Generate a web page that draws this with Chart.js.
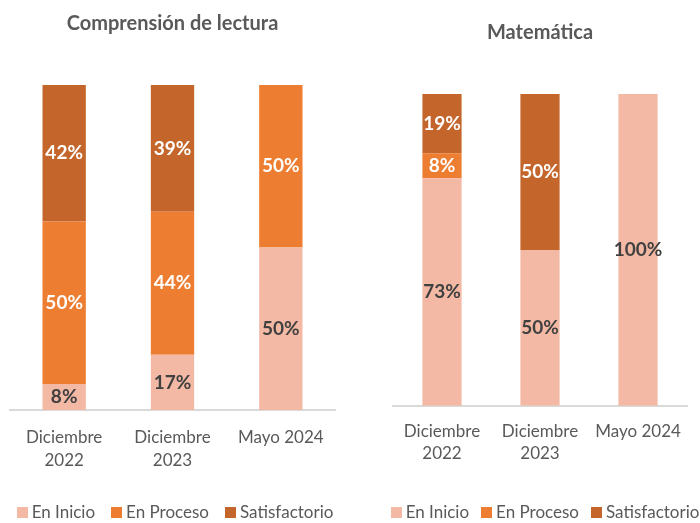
<!DOCTYPE html>
<html>
<head>
<meta charset="utf-8">
<script src="https://cdn.jsdelivr.net/npm/chart.js@4/dist/chart.umd.min.js"></script>
<style>
    body { margin: 0; background: #fff; }
    .box { position: absolute; top: 0; height: 523px; }
    .legend { position: absolute; top: 501px; left: 0; right: 0; display: flex; justify-content: center; gap: 16px;
              white-space: nowrap; font-family: Lato, "Open Sans", sans-serif; font-size: 17px; color: #595959; line-height: 22px; }
    #mateLegend { gap: 12px; }
    .legend span.item { display: flex; align-items: center; }
    .legend span.sq { display: inline-block; width: 11px; height: 11px; margin-right: 4px; }
</style>
</head>
<body>
<div class="box" style="left:0;width:350px;"><canvas id="lecturaChart"></canvas><div class="legend" id="lecturaLegend"></div></div>
<div class="box" style="left:390px;width:310px;"><canvas id="mateChart"></canvas><div class="legend" id="mateLegend"></div></div>
<script>
    'use strict';

    var periodos = [['Diciembre', '2022'], ['Diciembre', '2023'], 'Mayo 2024'];
    var niveles = ['En Inicio', 'En Proceso', 'Satisfactorio'];

    var lecturaInicio = [8, 17, 50];
    var lecturaProceso = [50, 44, 50];
    var lecturaSatisfactorio = [42, 39, 0];

    var mateInicio = [73, 50, 100];
    var mateProceso = [8, 0, 0];
    var mateSatisfactorio = [19, 50, 0];

    var colores = ['#F4B9A4', '#ED7D31', '#C4662B'];
    var colorLabel = ['#404040', '#ffffff', '#ffffff'];
    var FONT = 'Lato, "Open Sans", sans-serif';

    // draws the % inside every segment (no datalabels plugin here)
    var segmentLabels = {
        id: 'segmentLabels',
        afterDatasetsDraw: function (chart) {
            var ctx = chart.ctx;
            ctx.save();
            ctx.font = 'bold 19px ' + FONT;
            ctx.textAlign = 'center';
            ctx.textBaseline = 'middle';
            chart.data.datasets.forEach(function (ds, i) {
                chart.getDatasetMeta(i).data.forEach(function (bar, j) {
                    var v = ds.data[j];
                    if (!v) return;
                    ctx.fillStyle = colorLabel[i];
                    ctx.fillText(v + '%', bar.x, (bar.y + bar.base) / 2);
                });
            });
            ctx.restore();
        }
    };

    // legend as html, built from the chart's own legend items
    var htmlLegend = {
        id: 'htmlLegend',
        afterUpdate: function (chart, args, options) {
            var el = document.getElementById(options.containerID);
            el.innerHTML = '';
            chart.options.plugins.legend.labels.generateLabels(chart).forEach(function (item) {
                var li = document.createElement('span');
                li.className = 'item';
                var sq = document.createElement('span');
                sq.className = 'sq';
                sq.style.background = item.fillStyle;
                li.appendChild(sq);
                li.appendChild(document.createTextNode(item.text));
                el.appendChild(li);
            });
        }
    };

    function buildConfig(titulo, inicio, proceso, satisf, opts) {
        var series = [inicio, proceso, satisf];
        return {
            type: 'bar',
            data: {
                labels: periodos,
                datasets: niveles.map(function (nivel, i) {
                    return {
                        label: nivel,
                        data: series[i],
                        backgroundColor: colores[i],
                        borderWidth: 0,
                        barPercentage: 0.4,
                        categoryPercentage: 1
                    };
                })
            },
            options: {
                responsive: true,
                maintainAspectRatio: false,
                animation: false,
                layout: { padding: opts.padding },
                scales: {
                    x: {
                        stacked: true,
                        grid: { display: false },
                        border: { display: true, color: '#D9D9D9', width: 2 },
                        ticks: {
                            color: '#595959',
                            padding: opts.tickPad,
                            font: { family: FONT, size: 17, lineHeight: opts.lineHeight },
                            maxRotation: 0
                        }
                    },
                    y: { stacked: true, min: 0, max: 100, display: false }
                },
                plugins: {
                    title: {
                        display: true,
                        text: titulo,
                        color: '#595959',
                        font: { family: FONT, size: 20, weight: 'bold' },
                        padding: opts.titlePad
                    },
                    legend: { display: false },
                    htmlLegend: { containerID: opts.legendID },
                    tooltip: { enabled: false }
                }
            },
            plugins: [segmentLabels, htmlLegend]
        };
    }

    new Chart(document.getElementById('lecturaChart'),
        buildConfig('Comprensión de lectura', lecturaInicio, lecturaProceso, lecturaSatisfactorio, {
            padding: { left: 10, right: 15, top: 10, bottom: 43 },
            titlePad: { top: 2, bottom: 49 },
            tickPad: 8,
            lineHeight: 1.35,
            legendID: 'lecturaLegend'
        }));

    new Chart(document.getElementById('mateChart'),
        buildConfig('Matemática', mateInicio, mateProceso, mateSatisfactorio, {
            padding: { left: 3, right: 13, top: 19, bottom: 51 },
            titlePad: { top: 2, bottom: 49 },
            tickPad: 7,
            lineHeight: 1.3,
            legendID: 'mateLegend'
        }));
</script>
</body>
</html>
